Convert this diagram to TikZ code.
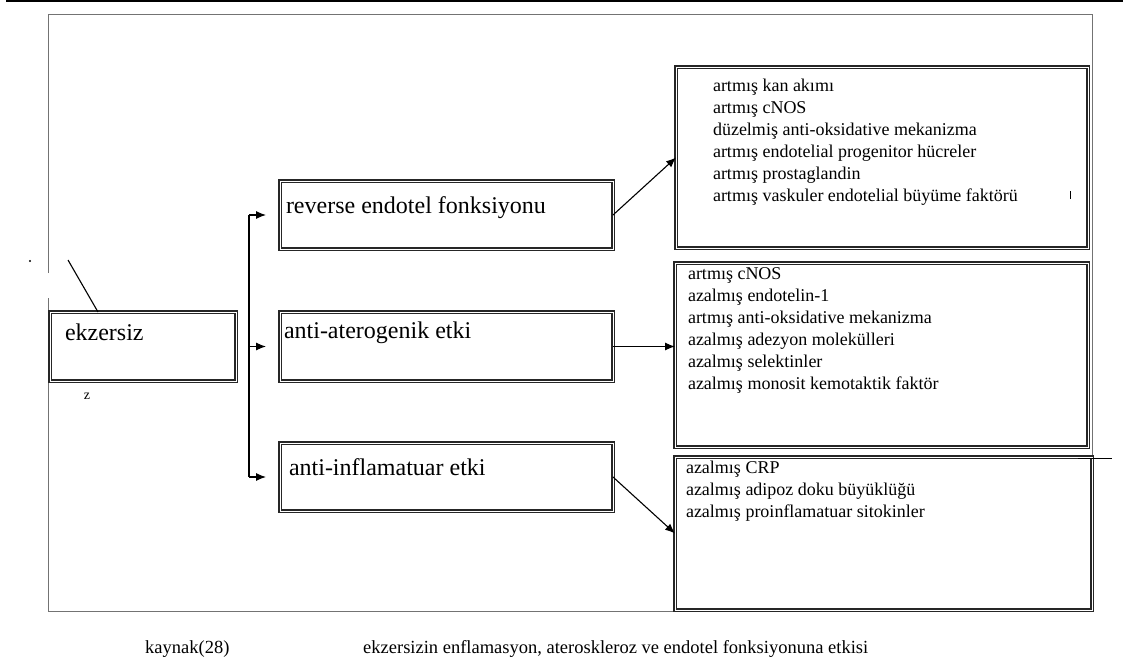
\documentclass[tikz,border=0pt]{standalone}
\usepackage{fontspec}
\setmainfont{Liberation Serif}
\usetikzlibrary{arrows.meta}

% box text: width, height, first baseline, lines
\newcommand{\boxtext}[4]{\parbox[t][#2][t]{#1}{\rule{0pt}{#3}#4}}

\begin{document}
\begin{tikzpicture}[x=1pt,y=-1pt,
    frame/.style={draw=black!55,line width=.9pt},
    effbox/.style={preaction={draw=black!85,line width=3.2pt},draw=white,line width=.8pt,
      anchor=north west,inner ysep=0pt,outer sep=0pt,font=\fontsize{24}{28}\selectfont},
    listbox/.style={effbox,font=\fontsize{18}{22}\selectfont},
    conn/.style={line width=1.1pt},
    arr/.style={conn,-{Latex[length=10pt,width=8pt]}},
    note/.style={inner sep=0pt,anchor=base west,font=\fontsize{18.5}{22}\selectfont}]
  \useasboundingbox (0,0) rectangle (1123,666);
  \draw[line width=2pt] (6,1) -- (1123,1);
  \draw[frame] (48,273) -- (48,14) -- (1092,14) -- (1092,611) -- (48,611) -- (48,298);

  % left and middle column
  \node[effbox,inner xsep=15pt] (ekz) at (50,312) {\boxtext{156pt}{69pt}{28pt}{ekzersiz}};
  \node[effbox,inner xsep=6pt] (rev) at (280,181) {\boxtext{321pt}{68pt}{32pt}{reverse endotel fonksiyonu}};
  \node[effbox,inner xsep=4pt] (ater) at (280,312) {\boxtext{325pt}{69pt}{26pt}{anti-aterogenik etki}};
  \node[effbox,inner xsep=9pt] (infl) at (280,443) {\boxtext{315pt}{68pt}{32pt}{anti-inflamatuar etki}};

  % right column
  \node[listbox,inner xsep=37pt] (kan) at (676,67) {\boxtext{338pt}{181pt}{25pt}{%
      artmış kan akımı\\
      artmış cNOS\\
      düzelmiş anti-oksidative mekanizma\\
      artmış endotelial progenitor hücreler\\
      artmış prostaglandin\\
      artmış vaskuler endotelial büyüme faktörü}};
  \node[listbox,inner xsep=13pt] (mid) at (675,263) {\boxtext{387pt}{184pt}{16pt}{%
      artmış cNOS\\
      azalmış endotelin-1\\
      artmış anti-oksidative mekanizma\\
      azalmış adezyon molekülleri\\
      azalmış selektinler\\
      azalmış monosit kemotaktik faktör}};
  \node[listbox,inner xsep=11pt] (bot) at (675,457) {\boxtext{395pt}{153pt}{16pt}{%
      azalmış CRP\\
      azalmış adipoz doku büyüklüğü\\
      azalmış proinflamatuar sitokinler}};

  % connectors
  \coordinate (trunk) at (249,0);
  \draw[conn] (rev.west -| trunk) -- (infl.west -| trunk);
  \foreach \n in {rev,ater,infl}
    \draw[arr,shorten >=14pt] (\n.west -| trunk) -- (\n.west);
  \draw[arr] (rev.east) -- (kan.west);
  \draw[arr] (ater.east) -- (ater.east -| mid.west);
  \draw[arr] (infl.east) -- (bot.west);

  % stray marks
  \coordinate (tick) at (68,260);
  \draw[line width=1.1pt] (tick) -- ([xshift=48pt]ekz.north west);
  \fill (30,261) circle (1.1pt);
  \node[inner sep=0pt,font=\fontsize{14}{16}\selectfont] (zz) at (87,396) {z};
  \draw[line width=.8pt] (1070,191) -- (1070,199);
  \draw[line width=.9pt] (1078,458) -- (1112,458);

  % caption
  \node[note] (src) at (145,653) {kaynak(28)};
  \node[note] (cap) at (363,653) {ekzersizin enflamasyon, ateroskleroz ve endotel fonksiyonuna etkisi};
\end{tikzpicture}
\end{document}
